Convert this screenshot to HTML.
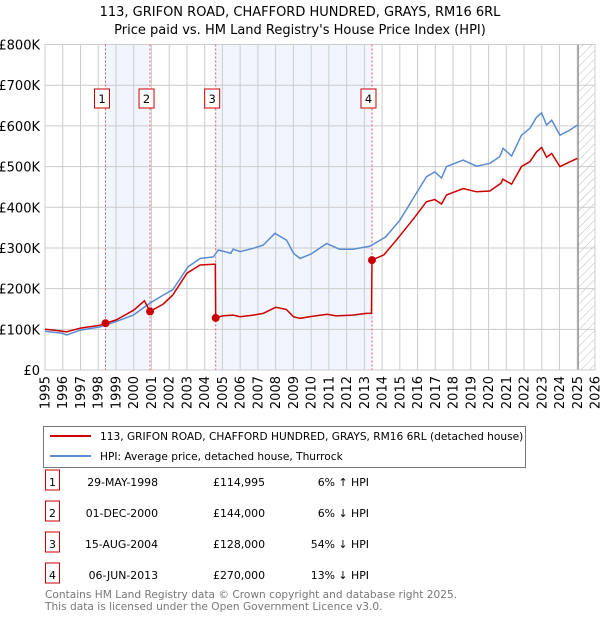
<!DOCTYPE html>
<html><head><meta charset="utf-8"><style>
body{margin:0;background:#fff;font-family:"Liberation Sans","DejaVu Sans",sans-serif;}
svg text{font-family:"DejaVu Sans","Liberation Sans",sans-serif;}
</style></head><body>
<svg id="chart" width="600" height="620" viewBox="0 0 600 620" xmlns="http://www.w3.org/2000/svg">
<defs><pattern id="hatch" width="6" height="6" patternUnits="userSpaceOnUse" patternTransform="rotate(45)"><line x1="0" y1="0" x2="0" y2="6" stroke="#bbb" stroke-width="1"/></pattern></defs>
<text x="300" y="16" text-anchor="middle" font-size="13">113, GRIFON ROAD, CHAFFORD HUNDRED, GRAYS, RM16 6RL</text>
<text x="300" y="34" text-anchor="middle" font-size="13">Price paid vs. HM Land Registry's House Price Index (HPI)</text>
<g id="plot"></g>
<g>
<rect x="43.5" y="426.5" width="482" height="41" fill="#fff" stroke="#777"/>
<line x1="50" y1="436" x2="91" y2="436" stroke="#cc0000" stroke-width="2"/>
<text x="100" y="440" font-size="10.6">113, GRIFON ROAD, CHAFFORD HUNDRED, GRAYS, RM16 6RL (detached house)</text>
<line x1="50" y1="456" x2="91" y2="456" stroke="#5b8bd0" stroke-width="2"/>
<text x="100" y="460" font-size="10.6">HPI: Average price, detached house, Thurrock</text>
</g>
<g id="table" font-size="10.9"></g>
<text x="45" y="598" font-size="10.6" fill="#777">Contains HM Land Registry data © Crown copyright and database right 2025.</text>
<text x="45" y="610" font-size="10.6" fill="#777">This data is licensed under the Open Government Licence v3.0.</text>
</svg>
<script>
const hpiYears=[1995.0,1995.5,1996.0,1996.22,1997.0,1998.1,1999.0,1999.98,2000.9,2001.66,2002.2,2003.07,2003.74,2004.49,2004.77,2005.47,2005.6,2006.0,2006.74,2007.3,2007.96,2008.62,2009.0,2009.37,2010.0,2010.88,2011.6,2012.35,2013.3,2014.2,2015.0,2015.94,2016.5,2016.97,2017.35,2017.63,2018.57,2019.32,2020.07,2020.63,2020.82,2021.3,2021.86,2022.33,2022.7,2022.99,2023.27,2023.56,2024.03,2024.6,2025.0];
const hpiValues=[95,93,90,86,98,106,119,135,164,184,197,254,274,278,295,287,297,291,299,307,336,319,287,274,285,311,297,297,304,327,368,435,475,487,472,500,516,501,508,524,545,526,577,594,621,632,602,614,577,590,602];
const priceYears=[1995.0,1995.5,1996.2,1997.0,1998.1,1998.41,1999.0,2000.0,2000.6,2000.92,2001.66,2002.2,2003.0,2003.74,2004.5,2004.6,2004.62,2005.0,2005.6,2006.0,2006.74,2007.3,2008.0,2008.6,2009.0,2009.37,2009.9,2010.9,2011.4,2012.35,2013.1,2013.4,2013.43,2014.1,2014.8,2015.8,2016.5,2016.97,2017.35,2017.63,2018.57,2019.32,2020.07,2020.7,2020.8,2021.3,2021.86,2022.33,2022.7,2022.99,2023.27,2023.56,2024.03,2024.6,2025.0];
const priceValues=[100,98,94,103,110,115,123,147,170,144,162,184,238,258,260,260,128,133,135,131,135,139,154,149,131,127,131,137,133,135,139,139,270,283,319,373,414,419,408,430,446,438,440,459,469,457,500,512,536,547,523,532,500,512,520];
const saleLabels=["1","2","3","4"];
const saleYears=[1998.41,2000.92,2004.62,2013.43];
const salePrices=[114.995,144,128,270];
const saleDates=["29-MAY-1998","01-DEC-2000","15-AUG-2004","06-JUN-2013"];
const salePriceText=["£114,995","£144,000","£128,000","£270,000"];
const saleHpiText=["6% ↑ HPI","6% ↓ HPI","54% ↓ HPI","13% ↓ HPI"];
const yTicks=[0,100,200,300,400,500,600,700,800];
const yTickLabels=["£0","£100K","£200K","£300K","£400K","£500K","£600K","£700K","£800K"];
const xTicks=[1995,1996,1997,1998,1999,2000,2001,2002,2003,2004,2005,2006,2007,2008,2009,2010,2011,2012,2013,2014,2015,2016,2017,2018,2019,2020,2021,2022,2023,2024,2025,2026];
const dataEnd=2025.05;

const X0=45,X1=595,Y0=370,Y1=44.5;
const xs=y=>X0+(y-1995)/(2026-1995)*(X1-X0);
const ys=v=>Y0-v/800*(Y0-Y1);
const NS="http://www.w3.org/2000/svg";
const plot=document.getElementById('plot');
function mk(tag,attrs,parent){const e=document.createElementNS(NS,tag);for(const k in attrs)e.setAttribute(k,attrs[k]);(parent||plot).appendChild(e);return e;}

for(let i=0;i<saleYears.length;i+=2){
  const r=mk('rect',{x:xs(saleYears[i]),y:Y1,width:xs(saleYears[i+1])-xs(saleYears[i]),height:Y0-Y1,fill:'#eef3fd',opacity:0.8});
  
  
}
const h=mk('rect',{x:xs(dataEnd),y:Y1,width:X1-xs(dataEnd),height:Y0-Y1,fill:'url(#hatch)'});


yTicks.forEach((t,i)=>{
  const l=mk('line',{x1:X0,x2:X1,y1:ys(t),y2:ys(t),stroke:'#ccc','stroke-width':1});
  
  
  const tx=mk('text',{x:40,y:ys(t)+5,'text-anchor':'end','font-size':13});
  
  
  tx.textContent=yTickLabels[i];
});
xTicks.forEach(t=>{
  const l=mk('line',{x1:xs(t),x2:xs(t),y1:Y1,y2:Y0,stroke:'#ccc','stroke-width':1});
  
  
  const tx=mk('text',{x:0,y:0,'text-anchor':'end','font-size':13,transform:`translate(${xs(t)+4.5},376) rotate(-90)`});
  
  
  tx.textContent=t;
});
const el=mk('line',{x1:xs(dataEnd),x2:xs(dataEnd),y1:Y1,y2:Y0,stroke:'#888','stroke-width':1.2});


const fr=mk('rect',{x:X0,y:Y1,width:X1-X0,height:Y0-Y1,fill:'none',stroke:'#ccc'});


saleYears.forEach((s,i)=>{
  const l=mk('line',{x1:xs(s),x2:xs(s),y1:Y1,y2:Y0,stroke:'#e06060','stroke-width':1,'stroke-dasharray':'2,2'});
  
  
});
function path(xa,va){return xa.map((x,i)=>(i?'L':'M')+xs(x).toFixed(1)+','+ys(va[i]).toFixed(1)).join('');}
const hp=mk('path',{d:path(hpiYears,hpiValues),fill:'none',stroke:'#5b8bd0','stroke-width':1.5});


const pp=mk('path',{d:path(priceYears,priceValues),fill:'none',stroke:'#cc0000','stroke-width':1.5});


saleYears.forEach((s,i)=>{
  const c=mk('circle',{cx:xs(s),cy:ys(salePrices[i]),r:4,fill:'#cc0000'});
  
  
  const b=mk('rect',{x:xs(s)-11,y:89,width:15,height:19,fill:'#fff',stroke:'#cc0000'});
  
  
  const t=mk('text',{x:xs(s)-3.5,y:103,'text-anchor':'middle','font-size':11.5});
  
  
  t.textContent=saleLabels[i];
});
const tb=document.getElementById('table');
const rowY=[482,513,544,575];
saleLabels.forEach((s,i)=>{
  const y=rowY[i];
  const b=mk('rect',{x:45.5,y:y-12,width:14,height:20,fill:'#fff',stroke:'#cc0000'},tb);
  
  
  const cells=[[52.5,'middle',s],[158,'end',saleDates[i]],[265,'end',salePriceText[i]],[369,'end',saleHpiText[i]]];
  cells.forEach(c=>{
    const t=mk('text',{x:c[0],y:y+4,'text-anchor':c[1]},tb);
    
    
    t.textContent=c[2];
  });
});
</script>
</body></html>
